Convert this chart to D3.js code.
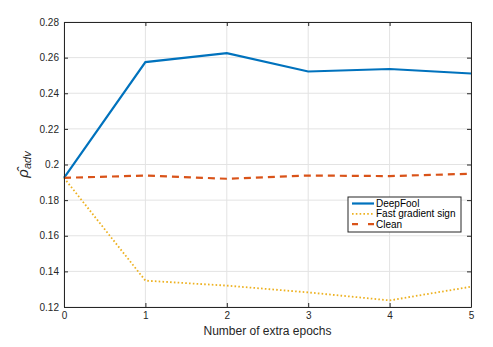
<!DOCTYPE html>
<html><head><meta charset="utf-8">
<script src="https://cdn.jsdelivr.net/npm/d3@7"></script>
<style>
html,body{margin:0;padding:0;background:#fff;}
svg{display:block;}
text{font-family:"Liberation Sans",Arial,Helvetica,sans-serif;}
</style></head>
<body><svg id="c" width="493" height="347"></svg>
<script>
const epochs = [0, 1, 2, 3, 4, 5];
const deepFool = [0.1925, 0.2575, 0.2625, 0.2522, 0.2536, 0.2511];
const fastGradient = [0.1925, 0.1348, 0.1320, 0.1282, 0.1237, 0.1314];
const clean = [0.1925, 0.1938, 0.1920, 0.1938, 0.1935, 0.1948];
const yTicks = [0.12, 0.14, 0.16, 0.18, 0.2, 0.22, 0.24, 0.26, 0.28];
const xTicks = [0, 1, 2, 3, 4, 5];
const seriesNames = ["DeepFool", "Fast gradient sign", "Clean"];

const svg = d3.select("#c");
const L = 64, R = 471, T = 22, B = 307;
const x = d3.scaleLinear().domain([0, 5]).range([L, R]);
const y = d3.scaleLinear().domain([0.12, 0.28]).range([B, T]);
const axisCol = "#262626";

// grid
const g = svg.append("g");
g.selectAll(".gx").data(xTicks).join("line")
  .attr("x1", d => x(d)).attr("x2", d => x(d)).attr("y1", T).attr("y2", B)
  .attr("stroke", "#e3e3e3").attr("stroke-width", 1);
g.selectAll(".gy").data(yTicks).join("line")
  .attr("x1", L).attr("x2", R).attr("y1", d => y(d)).attr("y2", d => y(d))
  .attr("stroke", "#e3e3e3").attr("stroke-width", 1);

// lines
const line = d3.line().x((d, i) => x(epochs[i])).y(d => y(d));
const series = [
  {name: seriesNames[0], vals: deepFool, color: "#0072BD", w: 2.2, dash: null},
  {name: seriesNames[1], vals: fastGradient, color: "#EDB120", w: 1.8, dash: "1.6,2.2"},
  {name: seriesNames[2], vals: clean, color: "#D95319", w: 2.2, dash: "7,5"}
];
series.forEach(s => {
  svg.append("path").attr("d", line(s.vals)).attr("fill", "none")
    .attr("stroke", s.color).attr("stroke-width", s.w)
    .attr("stroke-dasharray", s.dash);
});

// axes
const xAxisB = d3.axisBottom(x).tickValues(xTicks).tickFormat(d3.format("d")).tickSizeInner(-4).tickSizeOuter(0).tickPadding(5);
const xAxisT = d3.axisTop(x).tickValues(xTicks).tickFormat("").tickSizeInner(-4).tickSizeOuter(0);
const yAxisL = d3.axisLeft(y).tickValues(yTicks).tickFormat(d => d === 0.2 ? "0.2" : d3.format(".2f")(d)).tickSizeInner(-4).tickSizeOuter(0).tickPadding(5);
const yAxisR = d3.axisRight(y).tickValues(yTicks).tickFormat("").tickSizeInner(-4).tickSizeOuter(0);

function style(sel){
  sel.selectAll("path").attr("stroke", axisCol).attr("stroke-width", 1);
  sel.selectAll("line").attr("stroke", axisCol).attr("stroke-width", 1);
  sel.selectAll("text").attr("fill", axisCol).attr("font-size", 10)
     .attr("font-family", '"Liberation Sans",Arial,sans-serif');
}
svg.append("g").attr("transform", `translate(0,${B})`).call(xAxisB).call(style);
svg.append("g").attr("transform", `translate(0,${T})`).call(xAxisT).call(style);
svg.append("g").attr("transform", `translate(${L},0)`).call(yAxisL).call(style);
svg.append("g").attr("transform", `translate(${R},0)`).call(yAxisR).call(style);

// x label
svg.append("text").attr("x", (L + R) / 2).attr("y", 335).attr("text-anchor", "middle")
  .attr("font-size", 12).attr("fill", axisCol).text("Number of extra epochs");

// y label
const yl = svg.append("text").attr("transform", `translate(28,${(T + B) / 2}) rotate(-90)`)
  .attr("text-anchor", "middle").attr("fill", axisCol)
  .attr("font-family", '"DejaVu Serif","Liberation Serif",serif').attr("font-style", "italic");
yl.append("tspan").attr("font-size", 15).text("ρ̂");
yl.append("tspan").attr("font-size", 11).attr("dy", 3).text("adv");

// legend
const lx = 348, ly = 197, lw = 113, lh = 35;
svg.append("rect").attr("x", lx).attr("y", ly).attr("width", lw).attr("height", lh)
  .attr("fill", "#fff").attr("stroke", axisCol).attr("stroke-width", 1);
series.forEach((s, i) => {
  const yy = ly + 6.5 + i * 10.3;
  svg.append("line").attr("x1", lx + 4).attr("x2", lx + 26).attr("y1", yy).attr("y2", yy)
    .attr("stroke", s.color).attr("stroke-width", s.w)
    .attr("stroke-dasharray", s.dash ? (i === 2 ? "6,10" : s.dash) : null);
  svg.append("text").attr("x", lx + 28).attr("y", yy + 3.6).attr("font-size", 10)
    .attr("fill", "#000").text(s.name);
});
</script></body></html>
